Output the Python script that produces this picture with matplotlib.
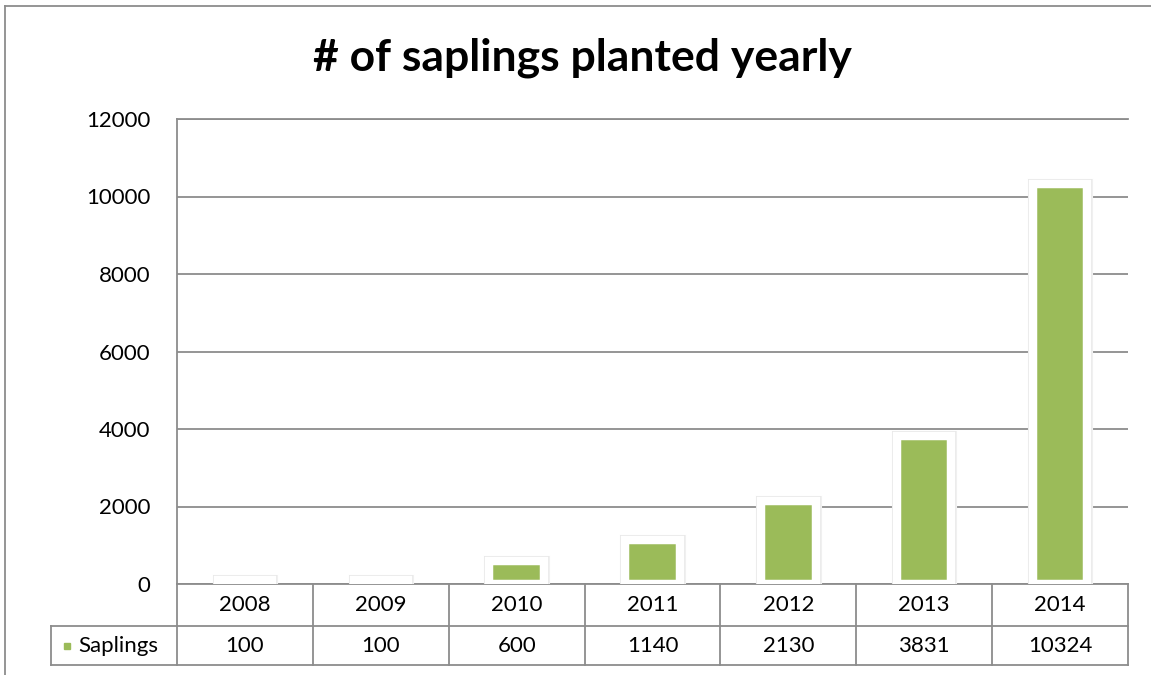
import matplotlib.pyplot as plt
import matplotlib.patheffects as pe
from matplotlib.lines import Line2D

''' data '''
years = ["2008", "2009", "2010", "2011", "2012", "2013", "2014"]
saplings = [100, 100, 600, 1140, 2130, 3831, 10324]
series_name = "Saplings"
y_ticks = [0, 2000, 4000, 6000, 8000, 10000, 12000]

green = "#9BBB59"
grid_gray = "#8c8c8c"
font = "Lato"
fs = 16

W, H = 1151, 675
fig = plt.figure(figsize=(W / 100, H / 100), dpi=100)

# outer chart frame (only left and top are inside the picture)
fig.add_artist(Line2D([5 / W, 5 / W], [0, 1 - 6 / H], color=grid_gray, lw=1.3))
fig.add_artist(Line2D([5 / W, 1], [1 - 6 / H, 1 - 6 / H], color=grid_gray, lw=1.3))

ax = fig.add_axes([177 / W, 91 / H, 951 / W, 465 / H])

x = list(range(len(years)))
bars = ax.bar(x, saplings, width=0.40, color=green, edgecolor="white",
              linewidth=6.1, zorder=3)
for b in bars:
    # soft grey glow round the white frame
    b.set_path_effects([pe.Stroke(linewidth=8.0, foreground="#f0f0f0"),
                        pe.Stroke(linewidth=7.0, foreground="#e6e6e6"),
                        pe.Normal()])

ax.set_xlim(-0.5, len(years) - 0.5)
ax.set_ylim(0, 12000)
ax.set_yticks(y_ticks)
ax.set_yticklabels([str(t) for t in y_ticks], fontsize=fs, family=font)
ax.tick_params(axis="y", length=0, pad=19)
ax.set_xticks([])
ax.yaxis.grid(True, color=grid_gray, lw=1.3)
ax.set_axisbelow(True)
for s in ["right", "bottom"]:
    ax.spines[s].set_visible(False)
for s in ["left", "top"]:
    ax.spines[s].set_color(grid_gray)
    ax.spines[s].set_linewidth(1.3)

''' data table under the plot '''
tr = ax.get_xaxis_transform()
r1 = -42 / 465
r2 = -81 / 465
lab_left = -126 / 951
lkw = dict(color=grid_gray, lw=1.3, clip_on=False)
ax.plot([-0.5, len(years) - 0.5], [0, 0], transform=tr, **lkw)
for i in range(len(years) + 1):
    ax.plot([i - 0.5, i - 0.5], [0, r2], transform=tr, **lkw)
ax.plot([lab_left, 1], [r1, r1], transform=ax.transAxes, **lkw)
ax.plot([lab_left, 1], [r2, r2], transform=ax.transAxes, **lkw)
ax.plot([lab_left, lab_left], [r1, r2], transform=ax.transAxes, **lkw)

for i, (yr, v) in enumerate(zip(years, saplings)):
    ax.text(i, r1 / 2, yr, transform=tr, ha="center", va="center",
            fontsize=fs, family=font)
    ax.text(i, (r1 + r2) / 2, str(v), transform=tr, ha="center", va="center",
            fontsize=fs, family=font)

ax.text(lab_left + 0.029, (r1 + r2) / 2, series_name, transform=ax.transAxes,
        ha="left", va="center", fontsize=fs, family=font)
ax.plot([lab_left + 0.0165], [(r1 + r2) / 2], transform=ax.transAxes,
        marker="s", ms=4.5, color=green, clip_on=False, ls="none")

fig.text(582 / W, 1 - 58 / H, "# of saplings planted yearly", ha="center",
         va="center", fontsize=32, fontweight="bold", family=font)

fig.savefig("out.png", dpi=100)
